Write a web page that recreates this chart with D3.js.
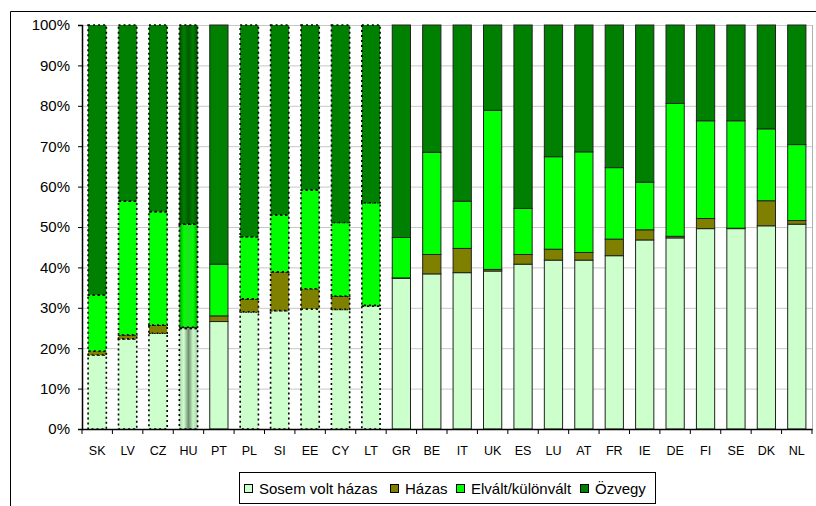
<!DOCTYPE html>
<html lang="hu">
<head>
<meta charset="UTF-8">
<title>Családi állapot</title>
<script src="https://d3js.org/d3.v7.min.js"></script>
<style>
  body { margin: 0; background: #fff; }
  text { font-family: "Liberation Sans", Arial, sans-serif; }
</style>
</head>
<body>
<script>
// Adatok
var countries = ["SK","LV","CZ","HU","PT","PL","SI","EE","CY","LT","GR","BE","IT","UK","ES","LU","AT","FR","IE","DE","FI","SE","DK","NL"];
var sosem   = [18.3,22.3,23.7,24.9,26.6,29.0,29.3,29.7,29.6,30.4,37.3,38.4,38.7,39.1,40.8,41.8,41.8,42.9,46.8,47.3,49.6,49.6,50.3,50.7];
var hazas   = [1.0,1.0,2.0,0.3,1.4,3.2,9.6,5.0,3.3,0.2,0.1,4.8,6.0,0.4,2.4,2.7,1.9,4.1,2.5,0.4,2.5,0.1,6.2,0.9];
var elvalt  = [13.9,33.1,28.1,25.5,12.8,15.4,14.1,24.5,18.2,25.4,10.0,25.3,11.7,39.4,11.4,22.9,24.9,17.7,11.8,32.9,24.2,26.6,17.8,18.8];
var ozvegy  = [66.8,43.6,46.2,49.3,59.2,52.4,47.0,40.8,48.9,44.0,52.6,31.5,43.6,21.1,45.4,32.6,31.4,35.3,38.9,19.4,23.7,23.7,25.7,29.6];
var seriesNames = ["Sosem volt házas","Házas","Elvált/különvált","Özvegy"];
var colors = ["#CCFFCC","#808000","#00FF00","#008000"];
var yTicks = [0,10,20,30,40,50,60,70,80,90,100];
// szaggatott keretű oszlopok
var dotted = ["SK","LV","CZ","HU","PL","SI","EE","CY","LT"];

var width = 816, height = 506;
var margin = { left: 82, right: 4, top: 25, bottom: 77 };

var svg = d3.select("body").append("svg")
    .attr("width", width)
    .attr("height", height);

// HU oszlop színátmenetei
var defs = svg.append("defs");
var huStops = [
    ["#a8d8a8","#d0ffd0","#6f8f6f","#c8f8c8","#a8d8a8"],
    ["#606000","#808000","#707000","#808000","#606000"],
    ["#00a000","#00ff00","#20e020","#00ff00","#00a000"],
    ["#004d00","#008000","#005a00","#008000","#004d00"]
];
huStops.forEach(function (st, i) {
    var g = defs.append("linearGradient").attr("id", "hu" + i)
        .attr("x1", "0%").attr("x2", "100%").attr("y1", "0%").attr("y2", "0%");
    [0, 0.25, 0.5, 0.75, 1].forEach(function (o, j) {
        g.append("stop").attr("offset", o).attr("stop-color", st[j]);
    });
});

// külső keret
svg.append("path")
    .attr("d", "M10.5,506 V11.5 H816")
    .attr("fill", "none")
    .attr("stroke", "#000")
    .attr("stroke-width", 1);

var x = d3.scaleBand()
    .domain(countries)
    .range([margin.left, width - margin.right])
    .paddingInner(0.4)
    .paddingOuter(0.2);

var y = d3.scaleLinear()
    .domain([0, 100])
    .range([height - margin.bottom, margin.top]);

// rácsvonalak
svg.append("g")
    .selectAll("line")
    .data(yTicks.filter(function (d) { return d > 0; }))
    .enter().append("line")
    .attr("x1", margin.left)
    .attr("x2", width - margin.right)
    .attr("y1", function (d) { return y(d) + 0.5; })
    .attr("y2", function (d) { return y(d) + 0.5; })
    .attr("stroke", "#c8c8c8")
    .attr("stroke-width", 1);

svg.append("line")
    .attr("x1", width - margin.right + 0.5).attr("x2", width - margin.right + 0.5)
    .attr("y1", margin.top).attr("y2", y(0))
    .attr("stroke", "#b0b0b0");

// halmozott adatok
var rows = countries.map(function (c, i) {
    return { country: c, v: [sosem[i], hazas[i], elvalt[i], ozvegy[i]] };
});
var stack = d3.stack().keys([0, 1, 2, 3]).value(function (d, k) { return d.v[k]; });
var layers = stack(rows);

layers.forEach(function (layer, k) {
    svg.append("g")
        .selectAll("rect")
        .data(layer)
        .enter().append("rect")
        .attr("x", function (d) { return x(d.data.country); })
        .attr("width", x.bandwidth())
        .attr("y", function (d) { return y(Math.min(100, d[1])); })
        .attr("height", function (d) { return y(d[0]) - y(Math.min(100, d[1])); })
        .attr("fill", function (d) { return d.data.country === "HU" ? "url(#hu" + k + ")" : colors[k]; })
        .attr("stroke", function (d) { return dotted.indexOf(d.data.country) >= 0 ? "#000" : "#222"; })
        .attr("stroke-width", function (d) { return dotted.indexOf(d.data.country) >= 0 ? 1.6 : 1; })
        .attr("stroke-dasharray", function (d) { return dotted.indexOf(d.data.country) >= 0 ? "2,3" : null; });
});

// Y tengely
var yAxis = svg.append("g")
    .attr("transform", "translate(" + margin.left + ",0)")
    .call(d3.axisLeft(y).tickValues(yTicks).tickSize(4).tickPadding(8).tickFormat(function (d) { return d + "%"; }));
yAxis.select(".domain").attr("stroke", "#000").attr("stroke-width", 1.5);
yAxis.selectAll("text").attr("font-size", 15).attr("fill", "#000").attr("font-family", "Liberation Sans, Arial, sans-serif");

// X tengely
var xAxis = svg.append("g")
    .attr("transform", "translate(0," + y(0) + ")")
    .call(d3.axisBottom(x).tickSize(0).tickPadding(17));
xAxis.select(".domain").attr("stroke", "#000").attr("stroke-width", 1.5);
xAxis.selectAll("text").attr("font-size", 12.5).attr("fill", "#000").attr("font-family", "Liberation Sans, Arial, sans-serif");
// osztásjelek a kategóriahatárokon
var step = x.step();
xAxis.selectAll(".sep")
    .data(countries)
    .enter().append("line")
    .attr("x1", function (d) { return x(d) - step * 0.2; })
    .attr("x2", function (d) { return x(d) - step * 0.2; })
    .attr("y1", 0).attr("y2", 5)
    .attr("stroke", "#000");
xAxis.append("line")
    .attr("x1", width - margin.right).attr("x2", width - margin.right)
    .attr("y1", 0).attr("y2", 5).attr("stroke", "#000");

// jelmagyarázat
var legend = svg.append("g").attr("transform", "translate(239,472)");
legend.append("rect")
    .attr("x", 0.5).attr("y", 0.5)
    .attr("width", 416).attr("height", 31)
    .attr("fill", "#fff").attr("stroke", "#000");
var legX = [5, 151, 217, 341];
seriesNames.forEach(function (n, i) {
    var g = legend.append("g").attr("transform", "translate(" + legX[i] + ",0)");
    g.append("rect")
        .attr("x", 0.5).attr("y", 12.5).attr("width", 8).attr("height", 8)
        .attr("fill", colors[i]).attr("stroke", "#000");
    g.append("text")
        .attr("x", 15).attr("y", 21.5)
        .attr("font-size", 15)
        .attr("fill", "#000")
        .text(n);
});
</script>
</body>
</html>
